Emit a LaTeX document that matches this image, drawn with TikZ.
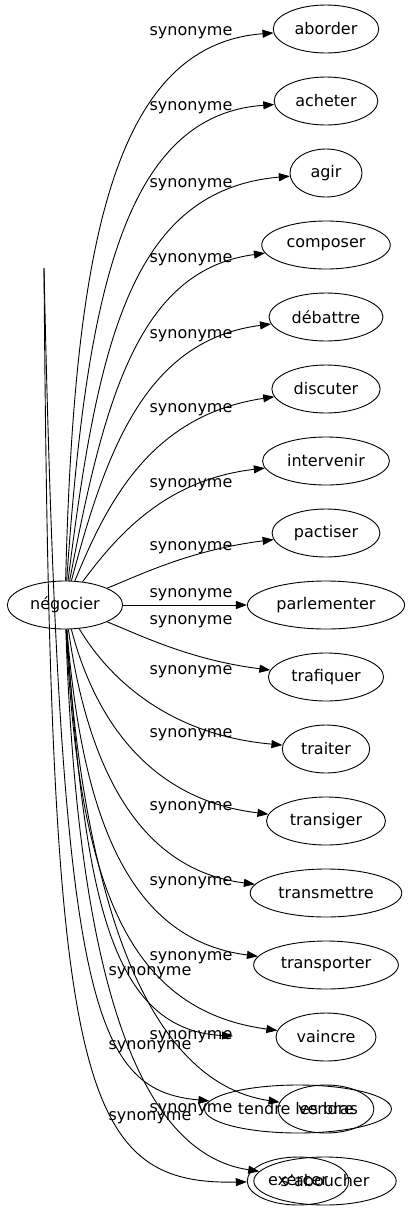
\documentclass[tikz,border=0pt]{standalone}
\usepackage{fontspec}
\setmainfont{DejaVu Sans}
\usetikzlibrary{shapes.geometric, arrows.meta}

\begin{document}
\begin{tikzpicture}[
    x=1pt, y=-1pt,
    font=\fontsize{16}{19}\selectfont,
    word/.style={
        ellipse, draw=black, line width=0.9pt,
        minimum width=72pt, minimum height=48pt,
        inner xsep=6pt, inner ysep=2pt
    },
    syn/.style={draw=black, line width=0.9pt, -{Triangle[length=11pt, width=8pt]}},
    lbl/.style={inner sep=0pt}
]
\useasboundingbox (0,0) rectangle (408,1211);

% ---------------------------------------------------------------------
% 1. LEFT: NEGOCIER
% ---------------------------------------------------------------------
\node[word] (neg) at (65,605) {négocier};

% ---------------------------------------------------------------------
% 2. RIGHT: SYNONYMS (one column)
% ---------------------------------------------------------------------
\foreach \n/\w [count=\i from 0] in {abo/aborder, ach/acheter, agi/agir, com/composer, deb/débattre, dis/discuter, int/intervenir, pac/pactiser, par/parlementer, trf/trafiquer, tra/traiter, tsg/transiger, tsm/transmettre, tsp/transporter, vai/vaincre}
    \node[word] (\n) at (326,{29+72*\i}) {\w};

% overlapping ones at the bottom
\node[word] (ten) at (298,1109) {tendre les bras};
\node[word] (ven) at (326,1109) {vendre};
\node[word] (exe) at (298,1181) {exercer};
\node[word] (sab) at (325,1181) {s'aboucher};

\coordinate (tail) at (44,268);
\coordinate (ghost) at (233,1036);

% ---------------------------------------------------------------------
% EDGES
% ---------------------------------------------------------------------
\draw[syn] (neg) -- (par);
\foreach \n/\ax/\ay/\bx/\by in {abo/74/250/112/45, ach/86/300/122/115, agi/98/340/132/190, com/104/400/138/270, deb/106/450/146/340, dis/108/500/152/415, int/114/540/162/480, pac/140/575/190/550, trf/140/635/190/660, tra/110/680/170/735, tsg/95/720/150/800, tsm/88/770/140/870, tsp/82/820/130/940, vai/78/880/125/1010, ven/80/850/130/1080, sab/75/900/115/1150}
    \draw[syn] (neg) .. controls (\ax,\ay) and (\bx,\by) .. (\n);

\draw[syn] (neg) .. controls (84,880) and (105,1030) .. (ghost);
\draw[syn] (tail) .. controls (60,1000) and (90,1090) .. (ten);
\draw[syn] (tail) .. controls (50,1080) and (75,1185) .. (exe);

% edge labels
\foreach \y [count=\i] in {33,108,185,260,336,410,485,548,595,622,672,735,808,883,958,1037,1110}
    \node[lbl] (r\i) at (191,\y) {synonyme};
\foreach \y [count=\i] in {973,1047,1118}
    \node[lbl] (l\i) at (150,\y) {synonyme};

\end{tikzpicture}
\end{document}
